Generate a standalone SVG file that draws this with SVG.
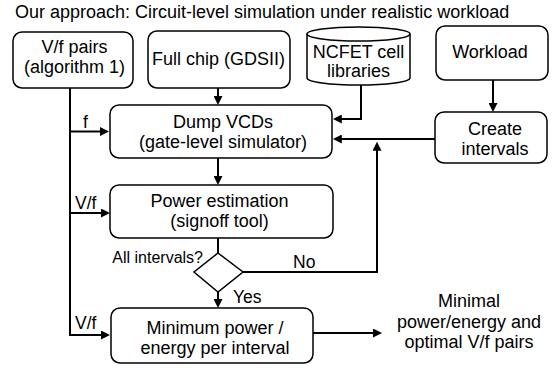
<svg xmlns="http://www.w3.org/2000/svg" width="559" height="368" viewBox="0 0 559 368">
  <style>
    text { font-family: "Liberation Sans", Arial, sans-serif; fill: #000; }
    .title { font-size: 18px; }
    .t { font-size: 18px; text-anchor: middle; }
    .lbl { font-size: 17.5px; }
    .q { font-size: 16px; text-anchor: end; }
    .box { fill: #fff; stroke: #000; stroke-width: 1.5; }
    .wire { fill: none; stroke: #000; stroke-width: 2; }
  </style>
  <defs>
    <marker id="arrow" viewBox="0 0 10 10" refX="1" refY="5" markerWidth="9" markerHeight="9" markerUnits="userSpaceOnUse" orient="auto">
      <path d="M0,0 L10,5 L0,10 z" fill="#000"/>
    </marker>
  </defs>

  <rect width="559" height="368" fill="#fff"/>
  <text class="title" x="15" y="18">Our approach: Circuit-level simulation under realistic workload</text>

  <g id="connectors">
    <path class="wire" d="M70,88 V335 H101.9" marker-end="url(#arrow)"/>
    <path class="wire" d="M70,131.5 H100.9" marker-end="url(#arrow)"/>
    <path class="wire" d="M70,213 H101.9" marker-end="url(#arrow)"/>
    <path class="wire" d="M218,88 V96.9" marker-end="url(#arrow)"/>
    <path class="wire" d="M361,85 V119 H340.9" marker-end="url(#arrow)"/>
    <path class="wire" d="M493,80 V103.9" marker-end="url(#arrow)"/>
    <path class="wire" d="M435,139 H340.9" marker-end="url(#arrow)"/>
    <path class="wire" d="M218,158 V176.9" marker-end="url(#arrow)"/>
    <path class="wire" d="M218,237 V253"/>
    <path class="wire" d="M218,292 V299.9" marker-end="url(#arrow)"/>
    <path class="wire" d="M243,272 H377 V149.9" marker-end="url(#arrow)"/>
    <path class="wire" d="M313,333 H373.9" marker-end="url(#arrow)"/>
    <text class="lbl" x="83" y="128">f</text>
    <text class="lbl" x="75" y="209">V/f</text>
    <text class="lbl" x="75" y="329">V/f</text>
    <text class="q" x="203" y="263">All intervals?</text>
    <text class="lbl" x="293" y="268">No</text>
    <text class="lbl" x="233" y="303">Yes</text>
  </g>

  <g id="vf-pairs">
    <rect class="box" x="13" y="32" width="120" height="56" rx="9"/>
    <text class="t" x="74.5" y="53">V/f pairs</text>
    <text class="t" x="74.5" y="73">(algorithm 1)</text>
  </g>

  <g id="full-chip">
    <rect class="box" x="148" y="31" width="142" height="57" rx="9"/>
    <text class="t" x="218.5" y="65">Full chip (GDSII)</text>
  </g>

  <g id="ncfet-libs">
    <path class="box" d="M307,34 V78 A51.5,7 0 0 0 410,78 V34"/>
    <ellipse class="box" cx="358.5" cy="34" rx="51.5" ry="7"/>
    <text class="t" x="358.5" y="58">NCFET cell</text>
    <text class="t" x="358.5" y="77">libraries</text>
  </g>

  <g id="workload">
    <rect class="box" x="436" y="26" width="112" height="54" rx="9"/>
    <text class="t" x="490" y="58">Workload</text>
  </g>

  <g id="create-intervals">
    <rect class="box" x="435" y="112" width="112" height="51" rx="9"/>
    <text class="t" x="495" y="135">Create</text>
    <text class="t" x="495" y="155">intervals</text>
  </g>

  <g id="dump-vcds">
    <rect class="box" x="110" y="105" width="222" height="53" rx="9"/>
    <text class="t" x="223" y="128">Dump VCDs</text>
    <text class="t" x="223" y="148">(gate-level simulator)</text>
  </g>

  <g id="power-estimation">
    <rect class="box" x="110" y="185" width="223" height="53" rx="9"/>
    <text class="t" x="219.5" y="207">Power estimation</text>
    <text class="t" x="219.5" y="227">(signoff tool)</text>
  </g>

  <g id="all-intervals">
    <polygon class="box" points="218,253 243,272 218,292 194,272"/>
  </g>

  <g id="minimum">
    <rect class="box" x="111" y="308" width="202" height="55" rx="9"/>
    <text class="t" x="215" y="334">Minimum power /</text>
    <text class="t" x="215" y="354">energy per interval</text>
  </g>

  <g id="result">
    <text class="t" x="469" y="307">Minimal</text>
    <text class="t" x="469" y="327.5">power/energy and</text>
    <text class="t" x="469" y="348">optimal V/f pairs</text>
  </g>
</svg>
